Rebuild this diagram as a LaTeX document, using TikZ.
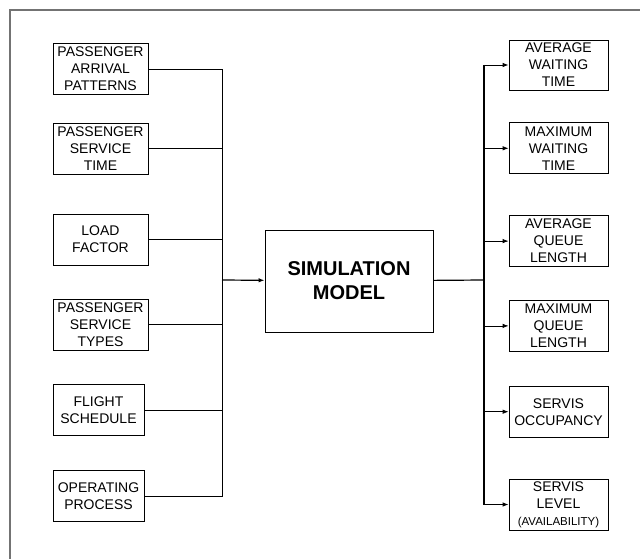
\documentclass[tikz,border=0pt]{standalone}
\usepackage{fontspec}
\setmainfont{Liberation Sans}
\usetikzlibrary{positioning,arrows.meta}

\begin{document}
\begin{tikzpicture}[x=1pt, y=-1pt,
        sim block/.style={rectangle, draw, line width=0.8pt, inner sep=0pt, text centered, font=\fontsize{14}{17}\selectfont},
        in block/.style={sim block, text width=95pt, minimum height=51pt},
        out block/.style={sim block, text width=99pt, minimum height=51pt},
        model block/.style={rectangle, draw, line width=0.8pt, minimum width=168pt, minimum height=102pt, align=center, font=\bfseries\fontsize{20}{24}\selectfont},
        line/.style={draw, line width=0.8pt},
        bus/.style={draw, line width=1.2pt},
        arrow/.style={draw, line width=0.8pt, -{Latex[length=6pt,width=4.5pt]}}]
        \useasboundingbox (0,0) rectangle (640,559);
        \draw [line width=1.2pt, black!55] (10,559) -- (10,10) -- (640,10);

        % inputs
        \node [in block] (arrival) at (100.5,69) {PASSENGER\\ARRIVAL\\PATTERNS};
        \node [in block, below=28pt of arrival] (service) {PASSENGER\\SERVICE\\TIME};
        \node [in block, below=39pt of service] (load) {LOAD\\FACTOR};
        \node [in block, below=33pt of load] (types) {PASSENGER\\SERVICE\\TYPES};
        \node [in block, text width=91pt, below=34pt of types.south west, anchor=north west] (flight) {FLIGHT\\SCHEDULE};
        \node [in block, text width=91pt, below=34pt of flight] (process) {OPERATING\\PROCESS};

        \node [model block] (model) at (349,281) {SIMULATION\\MODEL};
        \coordinate (lbus) at (222,280);
        \coordinate (rbus) at (484,280);

        % outputs
        \node [out block, minimum height=50pt] (avgwait) at (558.5,65) {AVERAGE\\WAITING\\TIME};
        \node [out block, below=32pt of avgwait] (maxwait) {MAXIMUM\\WAITING\\TIME};
        \node [out block, below=41pt of maxwait] (avgqueue) {AVERAGE\\QUEUE\\LENGTH};
        \node [out block, below=33pt of avgqueue] (maxqueue) {MAXIMUM\\QUEUE\\LENGTH};
        \node [out block, below=34pt of maxqueue] (occupancy) {SERVIS\\OCCUPANCY};
        \node [out block, below=41pt of occupancy] (level) {SERVIS\\LEVEL\\{\fontsize{11.5}{14}\selectfont(AVAILABILITY)}};

        \path [line] (arrival) -| (lbus);
        \path [line] (service) -| (lbus);
        \path [line] (load) -| (lbus);
        \path [line] (types) -| (lbus);
        \path [line] (flight) -| (lbus);
        \path [line] (process) -| (lbus);
        \path [arrow, line width=1.2pt] (lbus) -- (model);

        \path [bus] (model) -- (rbus);
        \path [bus] (rbus |- avgwait) -- (rbus |- level);
        \path [arrow] (rbus) |- (avgwait);
        \path [arrow] (rbus) |- (maxwait);
        \path [arrow] (rbus) |- (avgqueue);
        \path [arrow] (rbus) |- (maxqueue);
        \path [arrow] (rbus) |- (occupancy);
        \path [arrow] (rbus) |- (level);
\end{tikzpicture}
\end{document}
